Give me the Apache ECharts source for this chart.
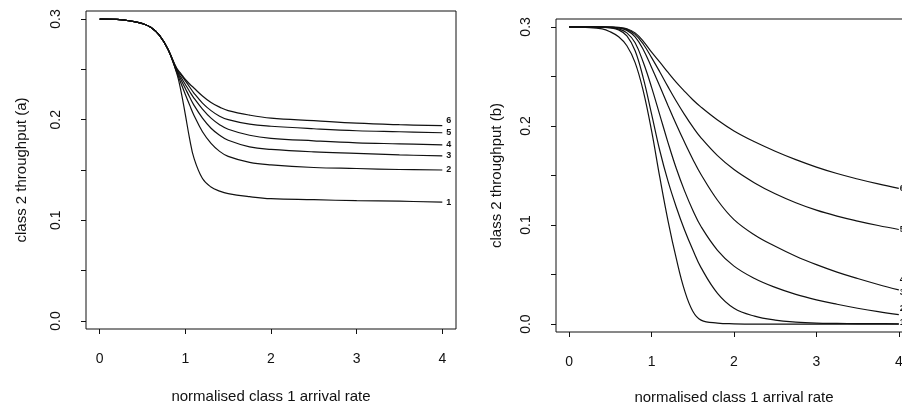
<!DOCTYPE html>
<html>
<head>
<meta charset="utf-8">
<script src="https://cdn.jsdelivr.net/npm/echarts@6/dist/echarts.min.js"></script>
<style>
  html, body { margin: 0; padding: 0; background: #fff; }
  #chart { width: 902px; height: 408px; }
</style>
</head>
<body>
<div id="chart"></div>
<script>
// panel (a): sample positions on the x axis and the six curves
const xA = [0, 0.2, 0.4, 0.5, 0.6, 0.7, 0.8, 0.9, 0.95, 1.0, 1.05, 1.1, 1.2, 1.3, 1.4, 1.5, 1.75, 2.0, 2.5, 3.0, 3.5, 4.0]
const a1 = [0.3, 0.2997, 0.2975, 0.2955, 0.2915, 0.2835, 0.2695, 0.246, 0.228, 0.205, 0.181, 0.162, 0.1415, 0.133, 0.129, 0.1265, 0.1235, 0.1215, 0.1205, 0.1195, 0.119, 0.118]
const a2 = [0.3, 0.2997, 0.2975, 0.2955, 0.2915, 0.2835, 0.2695, 0.247, 0.236, 0.225, 0.2145, 0.2045, 0.188, 0.1765, 0.1685, 0.1635, 0.1575, 0.155, 0.1525, 0.1515, 0.1505, 0.150]
const a3 = [0.3, 0.2997, 0.2975, 0.2955, 0.2915, 0.2835, 0.2695, 0.248, 0.2395, 0.231, 0.2225, 0.2145, 0.2015, 0.1915, 0.1845, 0.1795, 0.173, 0.1705, 0.168, 0.1665, 0.165, 0.164]
const a4 = [0.3, 0.2997, 0.2975, 0.2955, 0.2915, 0.2835, 0.2695, 0.249, 0.242, 0.235, 0.228, 0.2215, 0.2105, 0.2015, 0.195, 0.1905, 0.1845, 0.1815, 0.179, 0.177, 0.176, 0.175]
const a5 = [0.3, 0.2997, 0.2975, 0.2955, 0.2915, 0.2835, 0.2695, 0.250, 0.2445, 0.2385, 0.2325, 0.2265, 0.2165, 0.209, 0.2035, 0.200, 0.1955, 0.1935, 0.191, 0.189, 0.188, 0.187]
const a6 = [0.3, 0.2997, 0.2975, 0.2955, 0.2915, 0.2835, 0.2695, 0.251, 0.2455, 0.240, 0.2355, 0.2315, 0.2235, 0.217, 0.2125, 0.209, 0.2045, 0.2015, 0.199, 0.1965, 0.195, 0.194]

// panel (b)
const xB = [0, 0.2, 0.4, 0.5, 0.6, 0.7, 0.8, 0.9, 1.0, 1.1, 1.2, 1.3, 1.4, 1.5, 1.6, 1.8, 2.0, 2.25, 2.5, 2.75, 3.0, 3.25, 3.5, 3.75, 4.0]
const b1 = [0.3, 0.2995, 0.298, 0.295, 0.290, 0.281, 0.264, 0.235, 0.195, 0.148, 0.104, 0.066, 0.034, 0.013, 0.004, 0.001, 0.0003, 0, 0, 0, 0, 0, 0, 0, 0]
const b2 = [0.3, 0.3, 0.2995, 0.299, 0.297, 0.291, 0.276, 0.248, 0.212, 0.175, 0.144, 0.118, 0.095, 0.075, 0.057, 0.031, 0.016, 0.008, 0.004, 0.002, 0.001, 0.0007, 0.0005, 0.0004, 0.0003]
const b3 = [0.3, 0.3, 0.2998, 0.2993, 0.298, 0.294, 0.284, 0.264, 0.239, 0.211, 0.183, 0.157, 0.1345, 0.115, 0.0985, 0.0745, 0.0585, 0.046, 0.037, 0.030, 0.0245, 0.020, 0.016, 0.0125, 0.0095]
const b4 = [0.3, 0.3, 0.2999, 0.2997, 0.299, 0.2965, 0.290, 0.277, 0.259, 0.240, 0.2205, 0.2015, 0.1835, 0.1665, 0.151, 0.125, 0.1055, 0.090, 0.0785, 0.0685, 0.060, 0.0525, 0.046, 0.040, 0.0345]
const b5 = [0.3, 0.3, 0.3, 0.2998, 0.2993, 0.2975, 0.2925, 0.2825, 0.269, 0.2545, 0.2395, 0.225, 0.2115, 0.199, 0.188, 0.170, 0.156, 0.1425, 0.1315, 0.1225, 0.115, 0.109, 0.104, 0.0995, 0.0955]
const b6 = [0.3, 0.3, 0.3, 0.2999, 0.2995, 0.2982, 0.294, 0.2855, 0.2745, 0.2645, 0.254, 0.244, 0.235, 0.2265, 0.219, 0.206, 0.195, 0.184, 0.1745, 0.166, 0.1585, 0.152, 0.1465, 0.1415, 0.137]

const curveNames = ['1', '2', '3', '4', '5', '6']
const xTicks = [0, 1, 2, 3, 4]
const yTicks = [0, 0.05, 0.1, 0.15, 0.2, 0.25, 0.3]
const yTickLabels = [0, 0.1, 0.2, 0.3]

const font = 'Liberation Sans, Arial, Helvetica, sans-serif'
const ink = '#111'

const chart = echarts.init(document.getElementById('chart'))

const makeX = (gridIndex, gap) => ({
  type: 'value',
  gridIndex,
  min: -0.16,
  max: 4.16,
  axisLine: { show: false, onZero: false },
  axisTick: { show: true, customValues: xTicks, length: 5, lineStyle: { color: ink } },
  axisLabel: { customValues: xTicks, margin: 23, fontSize: 14, color: ink, fontFamily: font },
  splitLine: { show: false },
  name: 'normalised class 1 arrival rate',
  nameLocation: 'middle',
  nameGap: gap,
  nameTextStyle: { fontSize: 15, color: ink, fontFamily: font }
})

const makeY = (gridIndex, label, gap) => ({
  type: 'value',
  gridIndex,
  min: -0.008,
  max: 0.308,
  axisLine: { show: false, onZero: false },
  axisTick: { show: true, customValues: yTicks, length: 5, lineStyle: { color: ink } },
  axisLabel: {
    customValues: yTickLabels, rotate: 90, margin: 23, fontSize: 14, color: ink, fontFamily: font,
    formatter: v => v.toFixed(1)
  },
  splitLine: { show: false },
  name: label,
  nameLocation: 'middle',
  nameRotate: 90,
  nameGap: gap,
  nameTextStyle: { fontSize: 15, color: ink, fontFamily: font }
})

const makeSeries = (xs, ys, idx, name, dy, dist) => ({
  type: 'line',
  xAxisIndex: idx,
  yAxisIndex: idx,
  data: xs.map((x, i) => [x, ys[i]]),
  smooth: 0.4,
  showSymbol: false,
  lineStyle: { color: ink, width: 1.2 },
  endLabel: {
    show: true, formatter: name, fontSize: 9, fontWeight: 'bold', color: ink,
    fontFamily: font, distance: dist, offset: [0, dy]
  },
  silent: true
})

const seriesA = [a1, a2, a3, a4, a5, a6]
const seriesB = [b1, b2, b3, b4, b5, b6]
const dyA = [0, 0, 0, 0, 0, -5]
const dyB = [-2, -15, -22, -10, 0, 0]

const option = {
  animation: false,
  backgroundColor: '#fff',
  grid: [
    { left: 86, top: 11, width: 370, height: 318, show: true, borderColor: ink, borderWidth: 1, outerBoundsMode: 'none' },
    { left: 556, top: 19, width: 356, height: 313, show: true, borderColor: ink, borderWidth: 1, outerBoundsMode: 'none' }
  ],
  xAxis: [makeX(0, 60), makeX(1, 58)],
  yAxis: [makeY(0, 'class 2 throughput (a)', 57), makeY(1, 'class 2 throughput (b)', 52)],
  series: [
    ...seriesA.map((ys, i) => makeSeries(xA, ys, 0, curveNames[i], dyA[i], 4)),
    ...seriesB.map((ys, i) => makeSeries(xB, ys, 1, curveNames[i], dyB[i], 1))
  ]
}

chart.setOption(option)
</script>
</body>
</html>
